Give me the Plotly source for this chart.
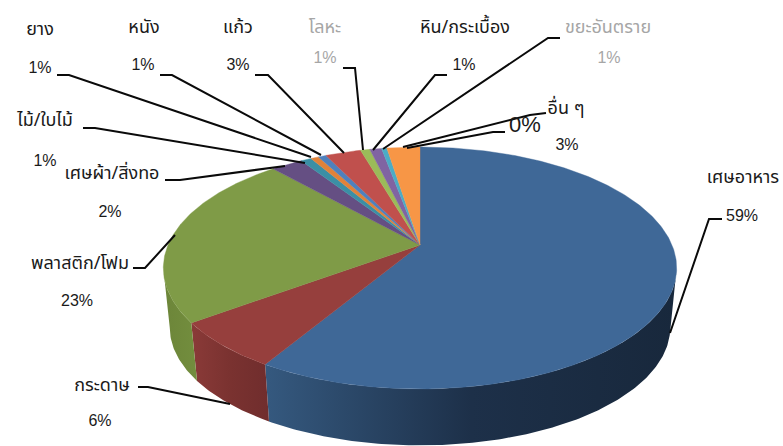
import math
import plotly.graph_objects as go

# ---- data ----
categories = ["เศษอาหาร", "กระดาษ", "พลาสติก/โฟม", "เศษผ้า/สิ่งทอ", "ไม้/ใบไม้", "ยาง", "หนัง",
              "แก้ว", "โลหะ", "หิน/กระเบื้อง", "ขยะอันตราย", "", "อื่น ๆ"]
values = [58.6, 6.3, 23.5, 2.4, 0.8, 0.6, 0.6, 2.7, 0.7, 0.9, 0.4, 0.0, 2.5]
percent_labels = ["59%", "6%", "23%", "2%", "1%", "1%", "1%", "3%", "1%", "1%", "1%", "0%", "3%"]

# ---- styles ----
top_colors = ["#3f6897", "#963f3d", "#7f9b47", "#654f83", "#3b8fa5", "#e0823a",
              "#4f81bd", "#c0504d", "#9bbb59", "#8064a2", "#4bacc6", "#f79646", "#f79646"]
wall_gradients = {0: ["#35597f", "#1d3049", "#18283c"],
                  1: ["#8a3a38", "#7a3230", "#702d2d"],
                  2: ["#6c8539", "#738e3e"]}
text_colors = ["#1a1a1a"] * 13
text_colors[8] = "#a6a6a6"
text_colors[10] = "#a6a6a6"
FONT = "Noto Sans Thai, Tahoma, Noto Sans, DejaVu Sans, sans-serif"

# ---- layout (pixels): name position, percent position, leader line ----
name_pos = [(743, 178), (102, 386), (80, 264), (112, 174), (45, 121), (40, 30), (144, 28),
            (238, 28), (325, 28), (465, 28), (608, 28), None, (566, 109)]
pct_pos = [(742, 217), (100, 422), (77, 302), (110, 213), (45, 162), (40, 69), (143, 66),
           (238, 66), (325, 59), (464, 66), (609, 59), (525, 126), (567, 146)]
leaders = [[(722, 219), (709, 219), (670, 333)],
           [(138, 387), (148, 387), (230, 404)],
           [(133, 268), (145, 268), (175, 235)],
           [(165, 180), (180, 180), (285, 166)],
           [(83, 128), (95, 128), (305, 163)],
           [(57, 75), (69, 75), (311, 157)],
           [(160, 75), (172, 75), (321, 155)],
           [(255, 75), (268, 75), (344, 153)],
           [(343, 68), (355, 68), (363, 150)],
           [(447, 75), (435, 75), (373, 150)],
           [(560, 38), (548, 38), (383, 149)],
           [(505, 132), (493, 132), (407, 148)],
           [(546, 113), (530, 115), (403, 147)]]

# ---- perspective projection of the pie disc ----
CX, CY, A, B, P = 420.0, 245.0, 252.0, 116.6, 0.19
SCALE, DROP = 0.975, 60.0
SIL_R = math.acos(-P)                 # right silhouette angle
SIL_L = 2 * math.pi - SIL_R           # left silhouette angle


def top_pt(theta):
    u, v = math.sin(theta), math.cos(theta)
    w = 1 + P * v
    return CX + A * u / w, CY - B * v / w


def bottom_pt(theta):
    x, y = top_pt(theta)
    return CX + SCALE * (x - CX), CY + SCALE * (y - CY) + DROP


def arc(a0, a1, fn):
    n = max(2, int(abs(a1 - a0) * 90))
    return [fn(a0 + (a1 - a0) * i / n) for i in range(n + 1)]


fig = go.Figure()
total = sum(values)
edges = [0.0]
for val in values:
    edges.append(edges[-1] + val / total * 2 * math.pi)

# side walls of the front slices
for i, stops in wall_gradients.items():
    a0, a1 = max(edges[i], SIL_R), min(edges[i + 1], SIL_L)
    pts = arc(a0, a1, top_pt) + arc(a1, a0, bottom_pt)
    pts.append(pts[0])
    scale = [[k / (len(stops) - 1), c] for k, c in enumerate(stops)]
    fig.add_trace(go.Scatter(x=[p[0] for p in pts], y=[p[1] for p in pts], mode="lines",
                             line=dict(width=0), fill="toself",
                             fillgradient=dict(type="horizontal", colorscale=scale),
                             hoverinfo="skip"))

# top faces
for i, val in enumerate(values):
    if val <= 0:
        continue
    pts = [(CX, CY)] + arc(edges[i], edges[i + 1], top_pt) + [(CX, CY)]
    fig.add_trace(go.Scatter(x=[p[0] for p in pts], y=[p[1] for p in pts], mode="lines",
                             line=dict(width=0.4, color=top_colors[i]), fill="toself",
                             fillcolor=top_colors[i], name=categories[i], hoverinfo="skip"))

# leader lines
for pts in leaders:
    fig.add_trace(go.Scatter(x=[p[0] for p in pts], y=[p[1] for p in pts], mode="lines",
                             line=dict(width=2, color="#0a0a0a"), hoverinfo="skip"))

# labels
for i, name in enumerate(categories):
    if name_pos[i] is not None:
        fig.add_trace(go.Scatter(x=[name_pos[i][0]], y=[name_pos[i][1]], mode="text", text=[name],
                                 textposition="middle center",
                                 textfont=dict(family=FONT, size=18, color=text_colors[i]),
                                 hoverinfo="skip"))
    fig.add_trace(go.Scatter(x=[pct_pos[i][0]], y=[pct_pos[i][1]], mode="text", text=[percent_labels[i]],
                             textposition="middle center",
                             textfont=dict(family="Liberation Sans, Arial, sans-serif",
                                           size=22 if percent_labels[i] == "0%" else 16,
                                           color=text_colors[i]),
                             hoverinfo="skip"))

fig.update_layout(width=783, height=446, margin=dict(l=0, r=0, t=0, b=0), showlegend=False,
                  paper_bgcolor="white", plot_bgcolor="white",
                  xaxis=dict(range=[0, 783], visible=False, fixedrange=True),
                  yaxis=dict(range=[446, 0], visible=False, fixedrange=True))
fig.write_html("out.html", config={"displayModeBar": False},
               post_script="document.body.style.margin='0';document.body.style.overflow='hidden';")
